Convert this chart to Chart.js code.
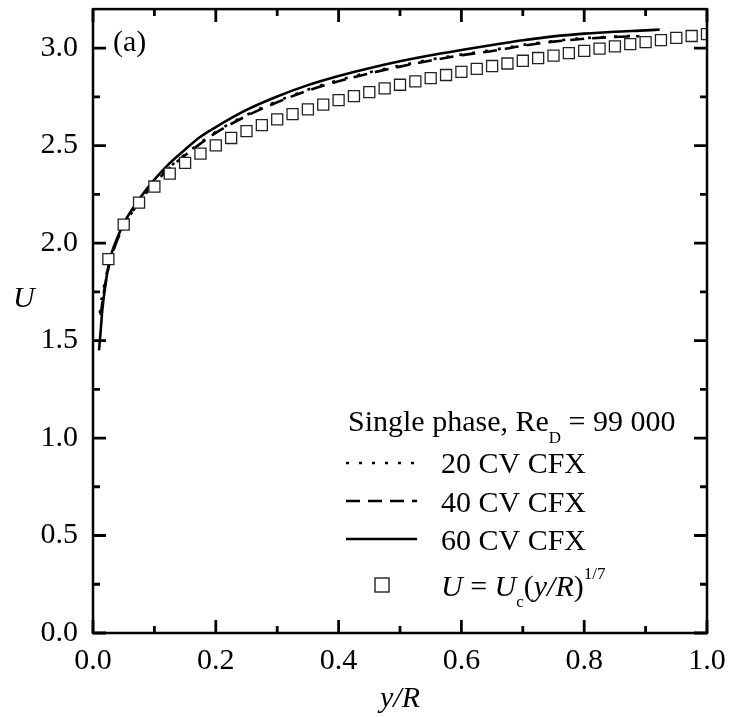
<!DOCTYPE html>
<html><head><meta charset="utf-8">
<style>html,body{margin:0;padding:0;background:#fff;}#wrap{width:730px;height:717px;}</style>
<script src="https://cdn.jsdelivr.net/npm/chart.js@4/dist/chart.umd.min.js"></script>
</head><body><div id="wrap"><canvas id="c" width="730" height="717"></canvas></div>
<script>
const FONT = "'Liberation Serif', 'Times New Roman', Times, serif";

const xTickLabels = ['0.0','0.2','0.4','0.6','0.8','1.0'];
const yTickLabels = ['0.0','0.5','1.0','1.5','2.0','2.5','3.0'];

// 1/7 power law markers
const markerX = [0.025,0.05,0.075,0.1,0.125,0.15,0.175,0.2,0.225,0.25,0.275,0.3,0.325,0.35,0.375,0.4,0.425,0.45,0.475,0.5,
                 0.525,0.55,0.575,0.6,0.625,0.65,0.675,0.7,0.725,0.75,0.775,0.8,0.825,0.85,0.875,0.9,0.925,0.95,0.975,1.0];
const markerU = [1.918,2.095,2.207,2.290,2.356,2.411,2.459,2.501,2.539,2.574,2.605,2.634,2.661,2.686,2.710,2.733,2.754,2.774,2.793,2.812,
                 2.829,2.846,2.862,2.878,2.893,2.908,2.921,2.935,2.949,2.961,2.974,2.986,2.997,3.009,3.020,3.031,3.041,3.052,3.062,3.072];

// 60 CV CFX (solid)
const cv60X = [0.0098,0.012,0.015,0.02,0.025,0.03,0.04,0.05,0.06,0.075,0.1,0.125,0.15,0.175,0.2,0.25,0.3,0.35,0.4,0.45,0.5,0.55,0.6,0.65,0.7,0.75,0.8,0.85,0.9,0.923];
const cv60U = [1.45,1.53,1.65,1.78,1.88,1.945,2.03,2.10,2.155,2.225,2.325,2.41,2.48,2.545,2.595,2.683,2.752,2.810,2.857,2.897,2.932,2.963,2.990,3.016,3.040,3.060,3.074,3.084,3.091,3.095];

// 40 CV CFX (dashed)
const cv40X = [0.0125,0.015,0.02,0.025,0.03,0.04,0.05,0.06,0.075,0.1,0.125,0.15,0.175,0.2,0.25,0.3,0.35,0.4,0.45,0.5,0.55,0.6,0.65,0.7,0.75,0.8,0.85,0.89];
const cv40U = [1.63,1.69,1.79,1.87,1.93,2.02,2.085,2.14,2.21,2.305,2.385,2.45,2.51,2.565,2.652,2.722,2.782,2.830,2.870,2.905,2.936,2.963,2.985,3.012,3.033,3.048,3.057,3.061];

// 20 CV CFX (dotted)
const cv20X = [0.0112,0.013,0.015,0.02,0.025,0.03,0.04,0.05,0.06,0.075,0.1,0.125,0.15,0.175,0.2,0.25,0.3,0.35,0.4,0.45,0.5,0.55,0.6,0.65,0.7,0.75,0.8,0.85,0.89];
const cv20U = [1.64,1.69,1.73,1.81,1.88,1.935,2.02,2.085,2.14,2.21,2.31,2.39,2.455,2.515,2.57,2.657,2.727,2.787,2.835,2.875,2.910,2.941,2.967,2.990,3.016,3.036,3.051,3.059,3.063];

function pts(xs, ys){ return xs.map((x,i)=>({x:x, y:ys[i]})); }
function labelFor(v, labels){
  const l = labels.find(s => Math.abs(parseFloat(s) - v) < 1e-6);
  return l === undefined ? '' : l;
}

const DOT = [3,10], DASH = [14,8];

function drawParts(ctx, x, y, parts){
  for (const p of parts){
    ctx.font = (p.it ? 'italic ' : '') + p.size + 'px ' + FONT;
    ctx.fillText(p.t, x, y + (p.dy || 0));
    x += ctx.measureText(p.t).width;
  }
}

const deco = {
  id: 'deco',
  afterDraw(chart){
    const ctx = chart.ctx;
    const a = chart.chartArea;
    const xs = chart.scales.x, ys = chart.scales.y;
    ctx.save();
    ctx.strokeStyle = '#000';
    ctx.fillStyle = '#000';
    // ticks (inward, all four sides)
    ctx.lineWidth = 2.8;
    ctx.lineCap = 'butt';
    xs.ticks.forEach(t => {
      const major = labelFor(t.value, xTickLabels) !== '';
      const len = major ? 13 : 7;
      const px = xs.getPixelForValue(t.value);
      ctx.beginPath();
      ctx.moveTo(px, a.bottom); ctx.lineTo(px, a.bottom - len);
      ctx.moveTo(px, a.top); ctx.lineTo(px, a.top + len);
      ctx.stroke();
    });
    ys.ticks.forEach(t => {
      const major = labelFor(t.value, yTickLabels) !== '';
      const len = major ? 13 : 7;
      const py = ys.getPixelForValue(t.value);
      ctx.beginPath();
      ctx.moveTo(a.left, py); ctx.lineTo(a.left + len, py);
      ctx.moveTo(a.right, py); ctx.lineTo(a.right - len, py);
      ctx.stroke();
    });
    // frame
    ctx.lineWidth = 2.5;
    ctx.strokeRect(a.left, a.top, a.right - a.left, a.bottom - a.top);

    // axis titles
    ctx.textAlign = 'left';
    ctx.textBaseline = 'alphabetic';
    ctx.font = 'italic 30px ' + FONT;
    ctx.fillText('U', 13, 307);
    ctx.textAlign = 'center';
    ctx.fillText('y/R', (a.left + a.right) / 2, 707);

    // panel label
    ctx.textAlign = 'left';
    ctx.font = '30px ' + FONT;
    ctx.fillText('(a)', 113, 51);

    // legend
    drawParts(ctx, 348, 431, [
      {t:'Single phase, Re', size:30},
      {t:'D', size:17, dy:12},
      {t:' = 99 000', size:30}
    ]);
    const rows = [
      {y:463, dash:DOT, txt:'20 CV CFX', base:473},
      {y:501, dash:DASH, txt:'40 CV CFX', base:511.5},
      {y:539, dash:[], txt:'60 CV CFX', base:550}
    ];
    rows.forEach(r => {
      ctx.save();
      ctx.lineWidth = 2.6;
      ctx.setLineDash(r.dash);
      ctx.beginPath();
      ctx.moveTo(346, r.y); ctx.lineTo(417, r.y);
      ctx.stroke();
      ctx.restore();
      ctx.font = '30px ' + FONT;
      ctx.fillText(r.txt, 441, r.base);
    });
    // marker sample
    ctx.save();
    ctx.fillStyle = '#fff';
    ctx.strokeStyle = '#222';
    ctx.lineWidth = 1.4;
    ctx.fillRect(375, 578, 14, 14);
    ctx.strokeRect(375, 578, 14, 14);
    ctx.restore();
    drawParts(ctx, 441, 596, [
      {t:'U', size:30, it:true},
      {t:' = ', size:30},
      {t:'U', size:30, it:true},
      {t:'c', size:17, dy:11},
      {t:'(', size:30},
      {t:'y/R', size:30, it:true},
      {t:')', size:30},
      {t:'1/7', size:17, dy:-17}
    ]);
    ctx.restore();
  }
};

new Chart(document.getElementById('c').getContext('2d'), {
  type: 'line',
  data: { datasets: [
    { label:'U = Uc(y/R)^1/7', data: pts(markerX, markerU), showLine:false,
      pointStyle:'rect', pointRadius:7.8, pointHoverRadius:7.8, pointBorderWidth:1.3,
      pointBorderColor:'#222', pointBackgroundColor:'#fff', order:0, clip:0 },
    { label:'60 CV CFX', data: pts(cv60X, cv60U), borderColor:'#000', borderWidth:2.6,
      pointRadius:0, cubicInterpolationMode:'monotone', order:1, clip:0, fill:false },
    { label:'40 CV CFX', data: pts(cv40X, cv40U), borderColor:'#000', borderWidth:2.6, borderDash:DASH,
      pointRadius:0, cubicInterpolationMode:'monotone', order:2, clip:0, fill:false },
    { label:'20 CV CFX', data: pts(cv20X, cv20U), borderColor:'#000', borderWidth:2.6, borderDash:DOT,
      pointRadius:0, cubicInterpolationMode:'monotone', order:3, clip:0, fill:false }
  ]},
  options: {
    responsive:false, animation:false, devicePixelRatio:1,
    layout:{ padding:{ left:0, right:23, top:4, bottom:0 } },
    plugins:{ legend:{ display:false }, tooltip:{ enabled:false } },
    events: [],
    scales:{
      x:{ type:'linear', min:0, max:1,
          grid:{ display:false, drawTicks:false }, border:{ display:false },
          ticks:{ stepSize:0.1, autoSkip:false, maxRotation:0, minRotation:0, includeBounds:false,
                  padding:10, color:'#000', font:{ family:FONT, size:30 },
                  callback:(v)=>labelFor(v, xTickLabels) },
          afterFit(s){ s.height = 84; s.paddingLeft = 0; s.paddingRight = 0; } },
      y:{ type:'linear', min:0, max:3.2,
          grid:{ display:false, drawTicks:false }, border:{ display:false },
          ticks:{ stepSize:0.25, autoSkip:false, includeBounds:false,
                  padding:15, color:'#000', font:{ family:FONT, size:30 },
                  callback:(v)=>labelFor(v, yTickLabels) },
          afterFit(s){ s.width = 93; s.paddingTop = 0; s.paddingBottom = 0; } }
    }
  },
  plugins:[deco]
});
</script></body></html>
